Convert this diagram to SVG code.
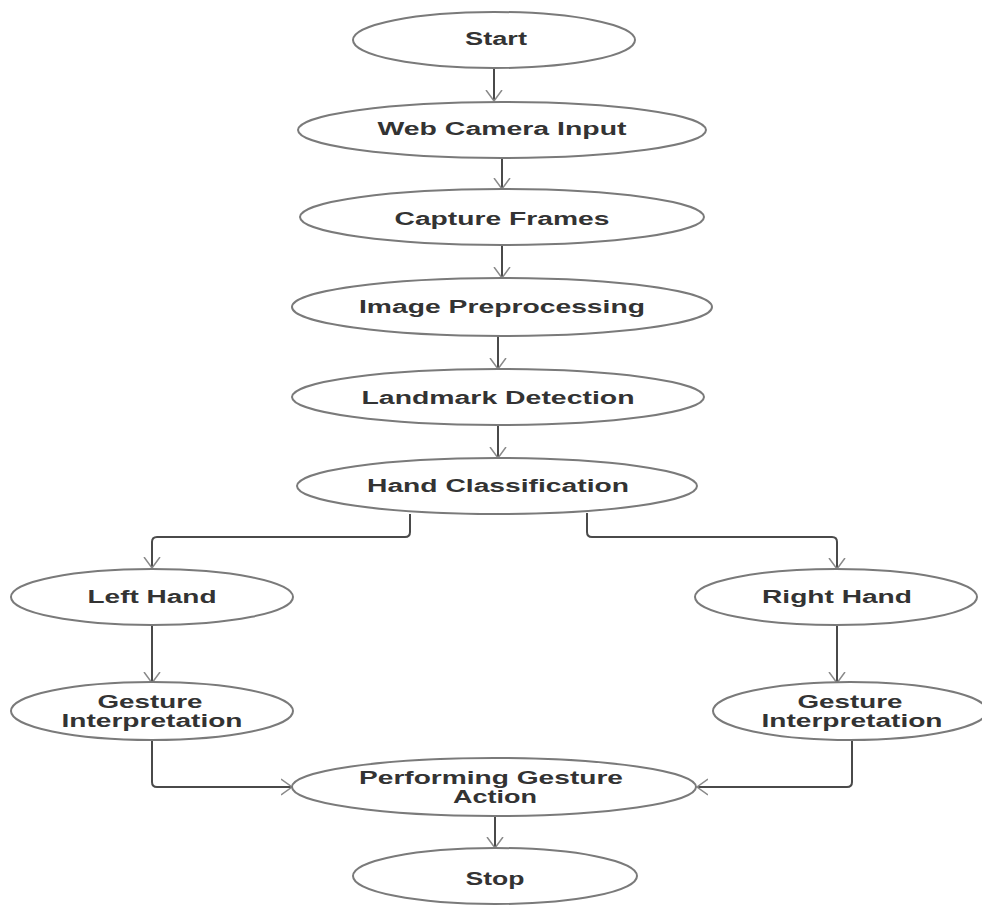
<svg xmlns="http://www.w3.org/2000/svg" width="982" height="905" viewBox="0 0 982 905">
<style>
  .node ellipse { fill: #ffffff; stroke: #7a7a7a; stroke-width: 2; }
  .node text { font-family: "Liberation Sans", Arial, sans-serif; font-weight: bold; font-size: 18px; fill: #333333; text-anchor: middle; }
  .edges path { fill: none; stroke: #4a4a4a; stroke-width: 2; }
</style>
<defs>
  <marker id="arr" viewBox="0 0 12 18" refX="11" refY="9" markerWidth="12" markerHeight="18" markerUnits="userSpaceOnUse" orient="auto">
    <path d="M0,1 L11,9 L0,17" fill="none" stroke="#8a8a8a" stroke-width="1.5"/>
  </marker>
</defs>
<rect width="982" height="905" fill="#ffffff"/>
<g class="edges">
  <path d="M494,68 V101" marker-end="url(#arr)"/>
  <path d="M502,158 V189" marker-end="url(#arr)"/>
  <path d="M502,245 V278" marker-end="url(#arr)"/>
  <path d="M498,336 V369" marker-end="url(#arr)"/>
  <path d="M498,425 V458" marker-end="url(#arr)"/>
  <path d="M410,514 V532 Q410,537 405,537 H157 Q152,537 152,542 V568" marker-end="url(#arr)"/>
  <path d="M587,513 V532 Q587,537 592,537 H832 Q837,537 837,542 V569" marker-end="url(#arr)"/>
  <path d="M152,625 V683" marker-end="url(#arr)"/>
  <path d="M837,625 V683" marker-end="url(#arr)"/>
  <path d="M152,740 V782 Q152,787 157,787 H292" marker-end="url(#arr)"/>
  <path d="M852,740 V782 Q852,787 847,787 H697" marker-end="url(#arr)"/>
  <path d="M495,817 V848" marker-end="url(#arr)"/>
</g>
<g id="start" class="node">
  <ellipse cx="494" cy="40" rx="141" ry="28"/>
  <text x="496" y="45" textLength="62" lengthAdjust="spacingAndGlyphs">Start</text>
</g>
<g id="webcam" class="node">
  <ellipse cx="502" cy="130" rx="204" ry="28"/>
  <text x="502" y="135" textLength="249" lengthAdjust="spacingAndGlyphs">Web Camera Input</text>
</g>
<g id="capture" class="node">
  <ellipse cx="502" cy="217" rx="202" ry="28"/>
  <text x="502" y="225" textLength="215" lengthAdjust="spacingAndGlyphs">Capture Frames</text>
</g>
<g id="preprocess" class="node">
  <ellipse cx="502" cy="307" rx="210" ry="29"/>
  <text x="502" y="313" textLength="286" lengthAdjust="spacingAndGlyphs">Image Preprocessing</text>
</g>
<g id="landmark" class="node">
  <ellipse cx="498" cy="397" rx="206" ry="28"/>
  <text x="498" y="404" textLength="273" lengthAdjust="spacingAndGlyphs">Landmark Detection</text>
</g>
<g id="classify" class="node">
  <ellipse cx="497" cy="486" rx="200" ry="28"/>
  <text x="498" y="492" textLength="262" lengthAdjust="spacingAndGlyphs">Hand Classification</text>
</g>
<g id="lefthand" class="node">
  <ellipse cx="152" cy="597" rx="141" ry="28"/>
  <text x="152" y="603" textLength="129" lengthAdjust="spacingAndGlyphs">Left Hand</text>
</g>
<g id="righthand" class="node">
  <ellipse cx="836" cy="597" rx="141" ry="28"/>
  <text x="837" y="603" textLength="150" lengthAdjust="spacingAndGlyphs">Right Hand</text>
</g>
<g id="gesture-left" class="node">
  <ellipse cx="152" cy="711" rx="141" ry="29"/>
  <text x="150" y="708" textLength="105" lengthAdjust="spacingAndGlyphs">Gesture</text>
  <text x="152" y="727" textLength="181" lengthAdjust="spacingAndGlyphs">Interpretation</text>
</g>
<g id="gesture-right" class="node">
  <ellipse cx="850" cy="711" rx="137" ry="29"/>
  <text x="850" y="708" textLength="105" lengthAdjust="spacingAndGlyphs">Gesture</text>
  <text x="852" y="727" textLength="181" lengthAdjust="spacingAndGlyphs">Interpretation</text>
</g>
<g id="perform" class="node">
  <ellipse cx="494" cy="787" rx="202" ry="29"/>
  <text x="491" y="784" textLength="264" lengthAdjust="spacingAndGlyphs">Performing Gesture</text>
  <text x="495" y="803" textLength="84" lengthAdjust="spacingAndGlyphs">Action</text>
</g>
<g id="stop" class="node">
  <ellipse cx="495" cy="876" rx="142" ry="28"/>
  <text x="495" y="885" textLength="59" lengthAdjust="spacingAndGlyphs">Stop</text>
</g>
</svg>
